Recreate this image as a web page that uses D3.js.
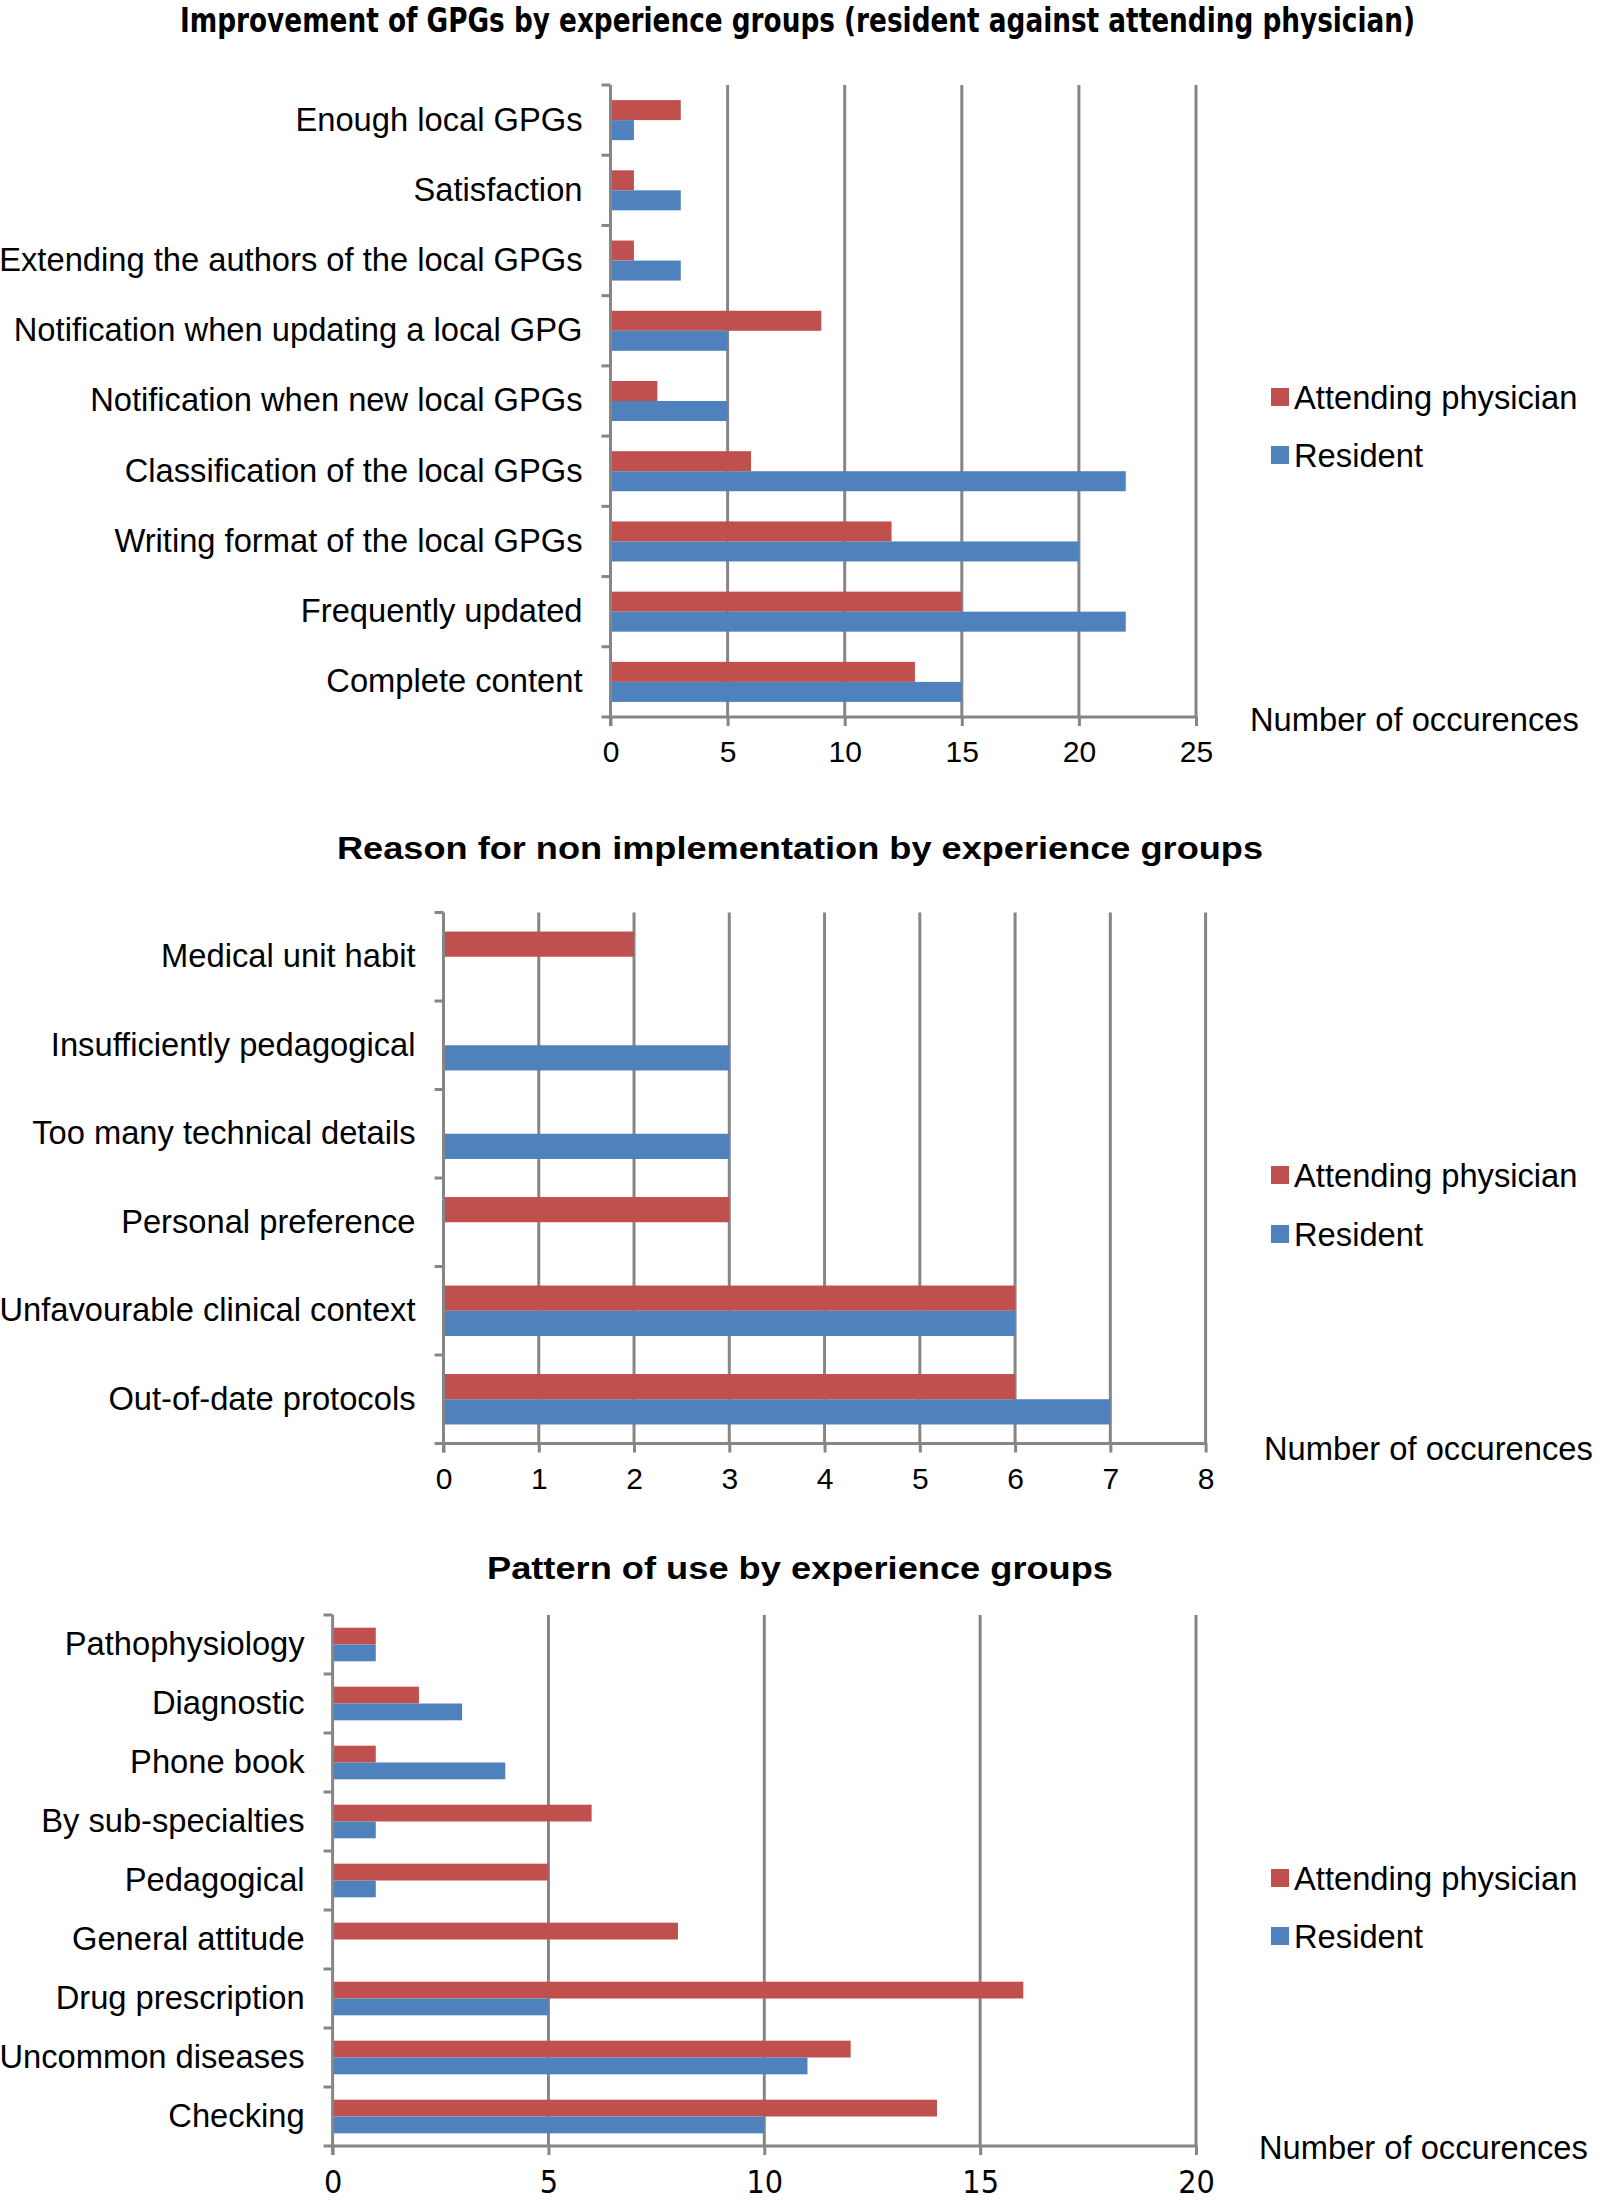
<!DOCTYPE html>
<html>
<head>
<meta charset="utf-8">
<script src="https://cdn.jsdelivr.net/npm/d3@7"></script>
<style>
  html, body { margin: 0; padding: 0; background: #fff; }
  svg { display: block; }
</style>
</head>
<body>
<script>
// ---------- DATA ----------
const seriesNames = ["Attending physician", "Resident"];
const seriesColors = ["#C0504D", "#4F81BD"];
const axisTitle = "Number of occurences";

const title1 = "Improvement of GPGs by experience groups (resident against attending physician)";
const categories1 = ["Enough local GPGs", "Satisfaction", "Extending the authors of the local GPGs",
  "Notification when updating a local GPG", "Notification when new local GPGs",
  "Classification of the local GPGs", "Writing format of the local GPGs",
  "Frequently updated", "Complete content"];
const attending1 = [3, 1, 1, 9, 2, 6, 12, 15, 13];
const resident1 = [1, 3, 3, 5, 5, 22, 20, 22, 15];
const ticks1 = [0, 5, 10, 15, 20, 25];

const title2 = "Reason for non implementation by experience groups";
const categories2 = ["Medical unit habit", "Insufficiently pedagogical", "Too many technical details",
  "Personal preference", "Unfavourable clinical context", "Out-of-date protocols"];
const attending2 = [2, 0, 0, 3, 6, 6];
const resident2 = [0, 3, 3, 0, 6, 7];
const ticks2 = [0, 1, 2, 3, 4, 5, 6, 7, 8];

const title3 = "Pattern of use by experience groups";
const categories3 = ["Pathophysiology", "Diagnostic", "Phone book", "By sub-specialties",
  "Pedagogical", "General attitude", "Drug prescription", "Uncommon diseases", "Checking"];
const attending3 = [1, 2, 1, 6, 5, 8, 16, 12, 14];
const resident3 = [1, 3, 4, 1, 1, 0, 5, 11, 10];
const ticks3 = [0, 5, 10, 15, 20];

// ---------- DRAW ----------
const W = 1600, H = 2200;
const svg = d3.select("body").append("svg").attr("width", W).attr("height", H);
const LABEL_FONT = "'Liberation Sans', Arial, sans-serif";
const LABEL_SIZE = 32.7;
const GRID = "#868686";
const SW = 3;

function drawChart(opt) {
  const g = svg.append("g");
  const x = d3.scaleLinear().domain([opt.ticks[0], opt.ticks[opt.ticks.length - 1]]).range([opt.x0, opt.x1]);
  const y = d3.scaleBand().domain(opt.categories).range([opt.y0, opt.y1]);
  const groupFrac = 0.57;
  const sub = d3.scaleBand().domain(seriesNames)
    .range([(y.bandwidth() * (1 - groupFrac)) / 2, y.bandwidth() * (1 + groupFrac) / 2]);

  // title
  g.append("text")
    .attr("x", opt.titleX0).attr("y", opt.titleY)
    .attr("dominant-baseline", "central")
    .attr("font-family", opt.titleFont)
    .attr("font-weight", "bold")
    .attr("font-size", opt.titleSize)
    .attr("fill", "#000")
    .attr("textLength", opt.titleX1 - opt.titleX0).attr("lengthAdjust", "spacingAndGlyphs")
    .text(opt.title);

  // gridlines
  g.append("g").selectAll("line").data(opt.ticks.slice(1)).join("line")
    .attr("x1", d => x(d)).attr("x2", d => x(d))
    .attr("y1", opt.y0).attr("y2", opt.y1)
    .attr("stroke", GRID).attr("stroke-width", SW);

  // bars
  const rows = opt.categories.map((c, i) => ({ c, vals: [opt.attending[i], opt.resident[i]] }));
  const rg = g.append("g").selectAll("g").data(rows).join("g")
    .attr("transform", d => `translate(0,${y(d.c)})`);
  rg.selectAll("rect").data(d => d.vals.map((v, k) => ({ v, k })).filter(e => e.v > 0)).join("rect")
    .attr("x", x(0))
    .attr("y", e => sub(seriesNames[e.k]))
    .attr("width", e => x(e.v) - x(0))
    .attr("height", sub.bandwidth())
    .attr("fill", e => seriesColors[e.k]);

  // bottom axis
  const xa = g.append("g").attr("transform", `translate(0,${opt.y1})`)
    .call(d3.axisBottom(x).tickValues(opt.ticks).tickSize(9).tickPadding(15).tickSizeOuter(0));
  xa.select(".domain").remove();
  xa.selectAll(".tick line").attr("stroke", GRID).attr("stroke-width", SW);
  xa.selectAll("text").attr("font-family", opt.tickFont).attr("font-size", opt.tickSize).attr("fill", "#000");
  g.append("line").attr("x1", x(0) - 9).attr("x2", opt.x1 + SW / 2)
    .attr("y1", opt.y1).attr("y2", opt.y1).attr("stroke", GRID).attr("stroke-width", SW);

  // left axis
  const ya = g.append("g").attr("transform", `translate(${x(0)},0)`)
    .call(d3.axisLeft(y).tickSize(0).tickPadding(28));
  ya.select(".domain").remove();
  ya.selectAll("text").attr("font-family", LABEL_FONT).attr("font-size", LABEL_SIZE).attr("fill", "#000");
  g.append("line").attr("x1", x(0)).attr("x2", x(0))
    .attr("y1", opt.y0).attr("y2", opt.y1 + 9).attr("stroke", GRID).attr("stroke-width", SW);
  const bounds = opt.categories.map(c => y(c));
  g.append("g").selectAll("line").data(bounds).join("line")
    .attr("x1", x(0) - 9).attr("x2", x(0))
    .attr("y1", d => d).attr("y2", d => d)
    .attr("stroke", GRID).attr("stroke-width", SW);

  // legend
  const lg = g.append("g");
  seriesNames.forEach((s, k) => {
    const ly = opt.legendY[k];
    lg.append("rect").attr("x", 1271).attr("y", ly - 9).attr("width", 18).attr("height", 18).attr("fill", seriesColors[k]);
    lg.append("text").attr("x", 1294).attr("y", ly).attr("dominant-baseline", "central")
      .attr("font-family", LABEL_FONT).attr("font-size", LABEL_SIZE).attr("fill", "#000").text(s);
  });

  // axis title
  g.append("text").attr("x", opt.axisTitleX).attr("y", opt.axisTitleY)
    .attr("dominant-baseline", "central")
    .attr("font-family", LABEL_FONT).attr("font-size", LABEL_SIZE).attr("fill", "#000").text(axisTitle);
}

drawChart({
  title: title1, titleX0: 180, titleX1: 1415, titleY: 20,
  titleFont: "'Liberation Sans Narrow', 'DejaVu Sans Condensed', 'Liberation Sans', sans-serif", titleSize: 33,
  categories: categories1, attending: attending1, resident: resident1, ticks: ticks1,
  x0: 610.5, x1: 1196, y0: 85, y1: 717,
  tickFont: LABEL_FONT, tickSize: 30,
  legendY: [397, 455], axisTitleX: 1250, axisTitleY: 719
});

drawChart({
  title: title2, titleX0: 337, titleX1: 1263, titleY: 848,
  titleFont: "'Liberation Sans', Arial, sans-serif", titleSize: 32,
  categories: categories2, attending: attending2, resident: resident2, ticks: ticks2,
  x0: 443.5, x1: 1205.6, y0: 912.5, y1: 1443.5,
  tickFont: LABEL_FONT, tickSize: 30,
  legendY: [1175, 1234], axisTitleX: 1264, axisTitleY: 1448
});

drawChart({
  title: title3, titleX0: 487, titleX1: 1113, titleY: 1568,
  titleFont: "'Liberation Sans', Arial, sans-serif", titleSize: 32,
  categories: categories3, attending: attending3, resident: resident3, ticks: ticks3,
  x0: 332.6, x1: 1196, y0: 1615, y1: 2146,
  tickFont: "'Liberation Sans Narrow', 'DejaVu Sans Condensed', 'Liberation Sans', sans-serif", tickSize: 32,
  legendY: [1878, 1936], axisTitleX: 1259, axisTitleY: 2147
});
</script>
</body>
</html>
